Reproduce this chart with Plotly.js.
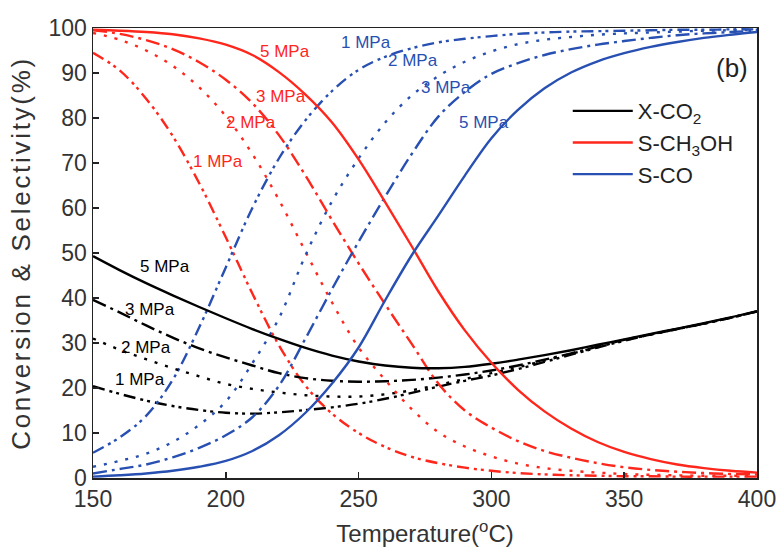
<!DOCTYPE html>
<html>
<head>
<meta charset="utf-8">
<script src="https://cdn.plot.ly/plotly-3.0.1.min.js"></script>
<style>html,body{margin:0;padding:0;background:#fff;}#chart{width:776px;height:549px;}.ytitle{letter-spacing:2.7px;}</style>
</head>
<body>
<div id="chart"></div>
<script>
// Temperature grid (°C)
var temperature = [150,160,170,180,190,200,210,220,230,240,250,260,270,280,290,300,310,320,330,340,350,360,370,380,390,400];

// CO2 conversion (%)
var xco2_5MPa = [49.3,46.2,43.3,40.6,38.0,35.5,33.1,30.9,28.9,27.2,25.9,25.0,24.5,24.4,24.7,25.4,26.3,27.3,28.4,29.6,30.8,32.0,33.2,34.4,35.7,37.1];
var xco2_3MPa = [39.6,36.8,33.9,31.2,28.8,26.8,25.0,23.3,22.2,21.6,21.4,21.5,21.8,22.3,23.0,23.9,25.0,26.3,27.7,29.2,30.7,31.9,33.1,34.3,35.6,37.0];
var xco2_2MPa = [31.0,28.5,26.4,24.4,22.6,20.9,19.8,19.0,18.4,18.1,18.1,18.6,19.5,20.7,22.0,23.3,24.6,26.1,27.6,29.1,30.6,31.9,33.1,34.3,35.6,37.0];
var xco2_1MPa = [20.4,18.7,17.2,16.0,15.1,14.5,14.3,14.6,15.1,15.7,16.5,17.6,18.9,20.3,21.6,22.8,24.2,25.8,27.4,29.0,30.5,31.9,33.1,34.3,35.6,37.0];

// CH3OH selectivity (%)
var sch3oh_5MPa = [99.6,99.4,99.1,98.6,97.7,96.3,94.0,90.2,85.2,79.0,70.8,61.3,51.5,41.5,32.8,25.6,19.6,14.8,11.0,8.0,5.8,4.2,3.0,2.2,1.6,1.2];
var sch3oh_3MPa = [99.5,98.7,97.3,95.3,92.4,88.5,83.3,76.2,67.2,57.3,47.7,38.6,29.8,21.0,15.0,11.2,8.2,6.0,4.5,3.3,2.4,1.8,1.4,1.1,0.9,0.8];
var sch3oh_2MPa = [98.9,97.4,95.0,91.6,86.8,80.4,72.0,61.8,50.3,39.0,29.0,21.8,15.3,10.2,7.0,4.8,3.2,2.2,1.6,1.2,0.9,0.7,0.6,0.5,0.5,0.4];
var sch3oh_1MPa = [94.5,90.6,84.3,76.0,65.5,53.5,41.0,29.5,20.5,14.3,10.0,6.9,4.7,3.3,2.3,1.6,1.1,0.8,0.6,0.5,0.4,0.4,0.3,0.3,0.3,0.3];

// CO selectivity (%)
var sco_5MPa = [0.3,0.6,1.0,1.6,2.5,3.8,6.0,9.5,14.5,21.0,29.0,39.5,49.5,58.3,67.2,75.5,81.8,86.6,90.1,92.6,94.4,95.8,96.9,97.8,98.5,99.1];
var sco_3MPa = [1.0,2.0,3.0,4.6,6.7,9.5,13.5,20.5,31.0,42.0,52.5,62.5,72.0,80.3,85.8,89.8,92.2,94.0,95.3,96.3,97.1,97.8,98.4,98.8,99.1,99.4];
var sco_2MPa = [2.5,3.8,5.4,8.0,11.8,17.0,25.5,35.5,49.5,61.5,71.0,79.0,85.0,89.3,92.5,94.8,96.4,97.4,98.0,98.5,98.8,99.0,99.2,99.4,99.5,99.6];
var sco_1MPa = [5.6,9.0,13.8,21.8,33.5,46.8,60.0,71.0,79.5,86.0,90.7,93.6,95.5,96.8,97.6,98.2,98.7,99.0,99.2,99.3,99.4,99.5,99.6,99.6,99.7,99.7];

var seriesNames = ['X-CO<sub>2</sub>','S-CH<sub>3</sub>OH','S-CO'];
var pressureLabel = ['5 MPa','3 MPa','2 MPa','1 MPa'];

var RED = 'rgb(255,38,28)';
var BLUE = 'rgb(40,80,178)';
var BLACK = 'rgb(0,0,0)';
var dashes = ['solid','14px,5px,3px,5px','3px,8px','12px,5px,3px,4px,3px,5px'];
var FONT = 'Arial, Liberation Sans, sans-serif';

var groups = [
  {name: seriesNames[0], color: BLACK, data: [xco2_5MPa,xco2_3MPa,xco2_2MPa,xco2_1MPa]},
  {name: seriesNames[1], color: RED, data: [sch3oh_5MPa,sch3oh_3MPa,sch3oh_2MPa,sch3oh_1MPa]},
  {name: seriesNames[2], color: BLUE, data: [sco_5MPa,sco_3MPa,sco_2MPa,sco_1MPa]}
];

var traces = [];
for (var k = 3; k >= 0; k--) {
  groups.forEach(function(g, gi){
    traces.push({
      x: temperature, y: g.data[k], type: 'scatter', mode: 'lines',
      name: g.name, legendrank: gi + 1,
      showlegend: k === 0,
      line: {color: g.color, width: 2.4, dash: dashes[k], shape: 'spline', smoothing: 1},
      hoverinfo: 'skip'
    });
  });
}

function lab(x, y, text, color) {
  return {x: x, y: y, xref: 'x', yref: 'y', text: text, showarrow: false,
          font: {family: FONT, size: 17, color: color},
          xanchor: 'center', yanchor: 'middle'};
}

var annotations = [
  lab(222.4, 94.7, pressureLabel[0], RED),
  lab(220.6, 84.7, pressureLabel[1], RED),
  lab(209.3, 79.1, pressureLabel[2], RED),
  lab(197.2, 70.4, pressureLabel[3], RED),
  lab(252.6, 96.7, pressureLabel[3], BLUE),
  lab(270.3, 92.8, pressureLabel[2], BLUE),
  lab(282.8, 86.7, pressureLabel[1], BLUE),
  lab(297.2, 78.9, pressureLabel[0], BLUE),
  lab(177.1, 47.0, pressureLabel[0], BLACK),
  lab(171.4, 37.4, pressureLabel[1], BLACK),
  lab(170.1, 28.9, pressureLabel[2], BLACK),
  lab(167.6, 21.8, pressureLabel[3], BLACK),
  {x: 390.4, y: 91.1, xref: 'x', yref: 'y', text: '(b)', showarrow: false,
   xanchor: 'center', yanchor: 'middle',
   font: {family: FONT, size: 26, color: '#222'}}
];

var tickFont = {family: FONT, size: 23, color: '#333'};

var layout = {
  width: 776, height: 549,
  margin: {l: 93, r: 19, t: 28, b: 71},
  paper_bgcolor: '#fff', plot_bgcolor: '#fff',
  font: {family: FONT, color: '#333'},
  xaxis: {
    range: [150, 400], tickvals: [150,200,250,300,350,400],
    ticks: 'inside', ticklen: 6, tickwidth: 1.5, tickcolor: '#222',
    showline: true, mirror: true, linecolor: '#222', linewidth: 1.5,
    showgrid: false, zeroline: false, tickfont: tickFont,
    ticklabeloverflow: 'allow',
    title: {text: 'Temperature(<sup>o</sup>C)', font: {family: FONT, size: 24, color: '#333'}, standoff: 14}
  },
  yaxis: {
    range: [0, 100], dtick: 10,
    ticks: 'inside', ticklen: 6, tickwidth: 1.5, tickcolor: '#222',
    showline: true, mirror: true, linecolor: '#222', linewidth: 1.5,
    showgrid: false, zeroline: false, tickfont: tickFont,
    ticklabeloverflow: 'allow',
    title: {text: 'Conversion & Selectivity(%)', font: {family: FONT, size: 26, color: '#333'}, standoff: 10}
  },
  legend: {
    x: 0.715, y: 0.862, xanchor: 'left', yanchor: 'top',
    bgcolor: 'rgba(0,0,0,0)', borderwidth: 0,
    font: {family: FONT, size: 22, color: '#222'},
    itemwidth: 60, traceorder: 'normal'
  },
  annotations: annotations,
  showlegend: true
};

Plotly.newPlot('chart', traces, layout, {staticPlot: true, displayModeBar: false});
</script>
</body>
</html>
